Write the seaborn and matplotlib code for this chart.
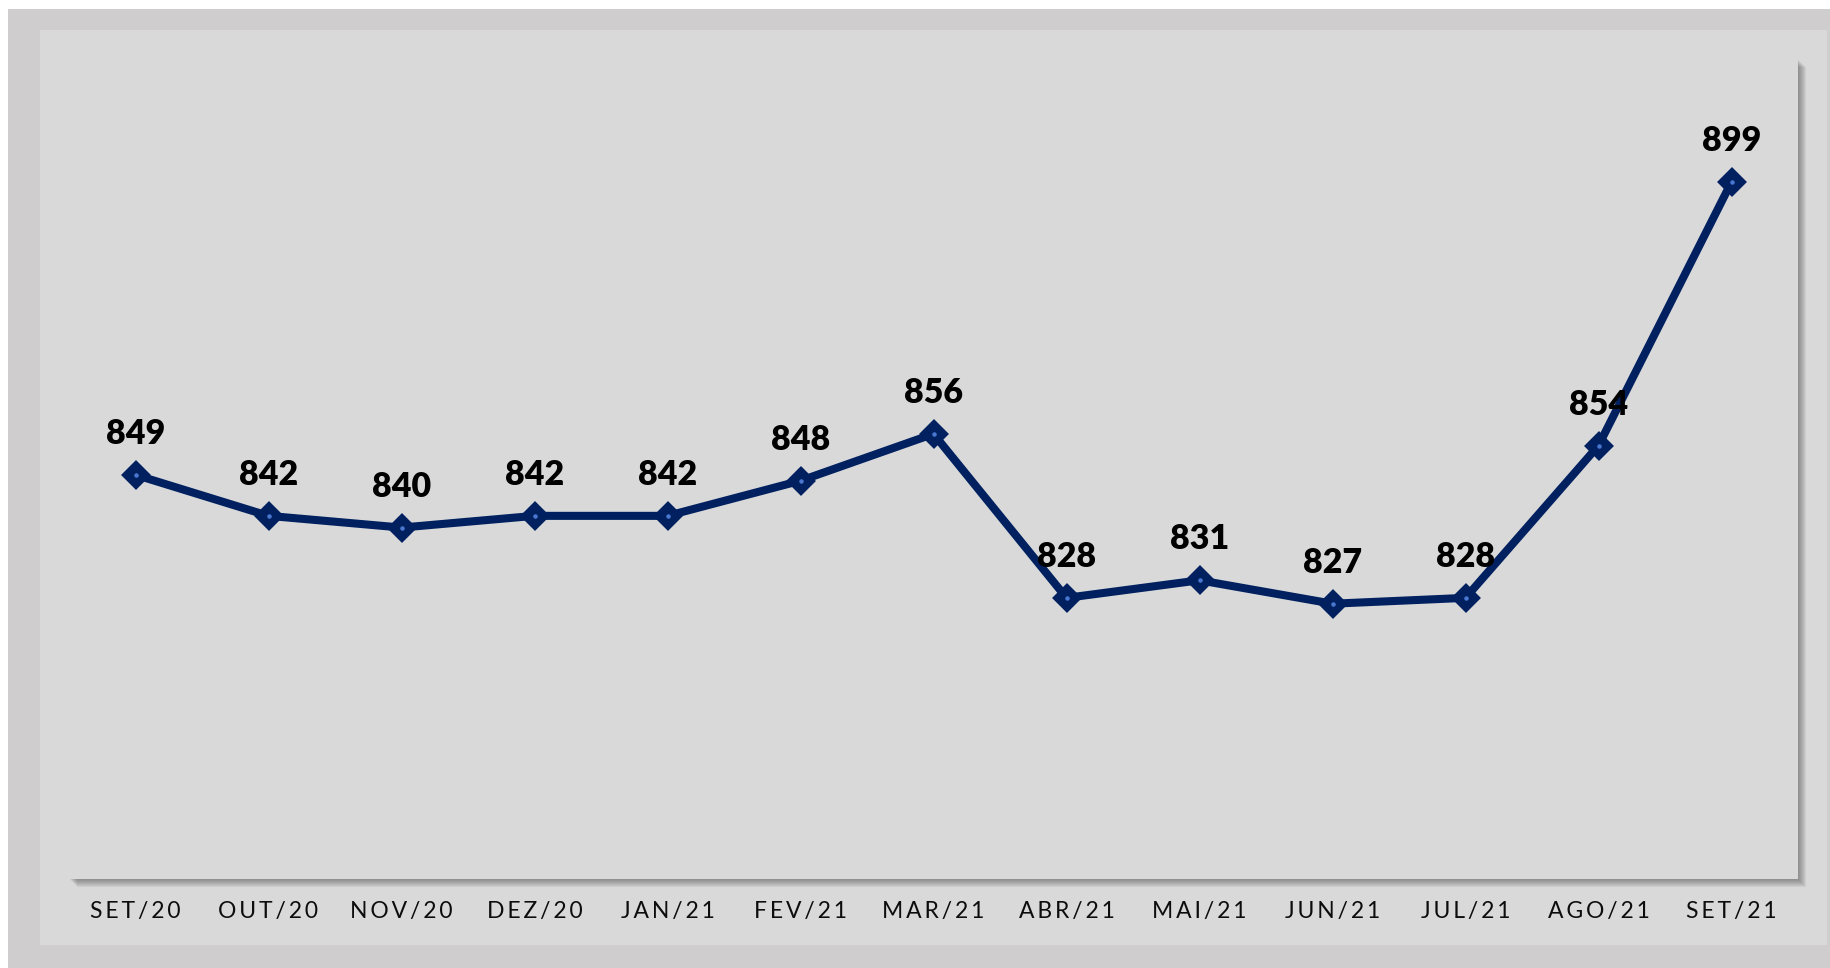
import matplotlib
matplotlib.use("Agg")
import matplotlib.pyplot as plt
import seaborn as sns
import pandas as pd
from matplotlib.patches import Rectangle

months = ["SET/20", "OUT/20", "NOV/20", "DEZ/20", "JAN/21", "FEV/21", "MAR/21",
          "ABR/21", "MAI/21", "JUN/21", "JUL/21", "AGO/21", "SET/21"]
values = [849, 842, 840, 842, 842, 848, 856, 828, 831, 827, 828, 854, 899]

sns.set_style("white")
plt.rcParams['font.family'] = ['Lato', 'DejaVu Sans']

W, H = 1830, 968
fig = plt.figure(figsize=(W / 100, H / 100), dpi=100, facecolor='white')


def px_rect(x0, y0, x1, y1, color, z, alpha=1.0):
    r = Rectangle((x0 / W, 1 - y1 / H), (x1 - x0) / W, (y1 - y0) / H,
                  transform=fig.transFigure, facecolor=color, edgecolor='none',
                  zorder=z, alpha=alpha)
    fig.patches.append(r)


# outer frame and inner panel
px_rect(8, 9, W, H, '#cfcdce', -10)
px_rect(40, 30, 1827, 945, '#d9d9d9', -9)
# soft shadow of the plot area
for k in range(1, 9):
    px_rect(69 + k, 59 + k, 1798 + k, 879 + k, '#555555', -8, alpha=0.09)

L, T, R, B = 69, 59, 1798, 879
ax = fig.add_axes([L / W, 1 - B / H, (R - L) / W, (B - T) / H])
ax.set_facecolor('#d9d9d9')
for s in ax.spines.values():
    s.set_visible(False)

df = pd.DataFrame({"idx": range(len(months)), "value": values})
sns.lineplot(data=df, x="idx", y="value", ax=ax, color='#002060', linewidth=5.8,
             marker='D', markersize=12, markerfacecolor='#002060',
             markeredgecolor='#002060', markeredgewidth=3, solid_joinstyle='round')
ax.scatter(df["idx"], df["value"], s=5, color='#4a78d0', zorder=5)

for i, v in enumerate(values):
    ax.annotate(str(v), (i, v), xytext=(0, 29.5), textcoords='offset points',
                ha='center', va='center', fontsize=24.5, fontweight='heavy',
                color='black')

ax.set_xlim(-0.5, len(months) - 0.5)
ax.set_ylim(780, 920)
ax.set_yticks([])
ax.set_xticks(range(len(months)))
ax.set_xticklabels(['\u2009'.join(m) for m in months], fontsize=16.5, color='#0d0d0d')
ax.tick_params(axis='x', length=0, pad=16)
ax.set_xlabel('')
ax.set_ylabel('')

fig.savefig('out.png', dpi=100, facecolor='white')
